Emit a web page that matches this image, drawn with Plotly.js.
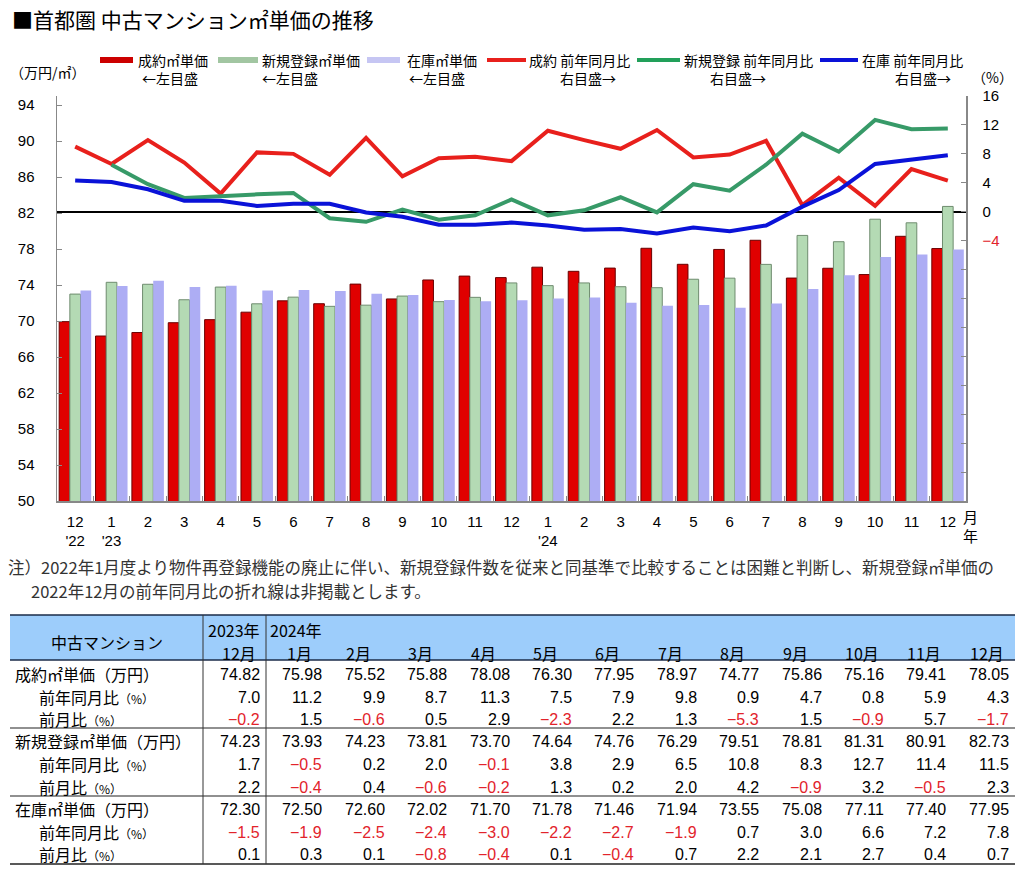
<!DOCTYPE html>
<html><head><meta charset="utf-8">
<script src="https://cdn.plot.ly/plotly-3.0.1.min.js"></script>
<style>html,body{margin:0;padding:0;background:#fff}#chart{width:1024px;height:875px}</style>
</head><body><div id="chart"></div>
<script>
// ---- data ----
const months = ['2022-12','2023-01','2023-02','2023-03','2023-04','2023-05','2023-06','2023-07','2023-08','2023-09','2023-10','2023-11','2023-12',
                '2024-01','2024-02','2024-03','2024-04','2024-05','2024-06','2024-07','2024-08','2024-09','2024-10','2024-11','2024-12'];
const monthLabels = ["12<br>'22","1<br>'23","2","3","4","5","6","7","8","9","10","11","12",
                     "1<br>'24","2","3","4","5","6","7","8","9","10","11","12"];
const seiyakuPrice = [69.93,68.33,68.72,69.81,70.15,70.98,72.24,71.92,74.10,72.45,74.56,74.99,74.82,
                      75.98,75.52,75.88,78.08,76.30,77.95,78.97,74.77,75.86,75.16,79.41,78.05];
const shinkiPrice  = [72.99,74.30,74.08,72.36,73.77,71.91,72.65,71.63,71.76,72.77,72.15,72.63,74.23,
                      73.93,74.23,73.81,73.70,74.64,74.76,76.29,79.51,78.81,81.31,80.91,82.73];
const zaikoPrice   = [73.40,73.90,74.46,73.79,73.92,73.39,73.44,73.33,73.04,72.89,72.34,72.20,72.30,
                      72.50,72.60,72.02,71.70,71.78,71.46,71.94,73.55,75.08,77.11,77.40,77.95];
const seiyakuYoY = [9.0,6.6,9.9,6.8,2.5,8.2,8.0,5.1,10.2,4.9,7.4,7.6,7.0,
                    11.2,9.9,8.7,11.3,7.5,7.9,9.8,0.9,4.7,0.8,5.9,4.3];
const shinkiYoY  = [null,6.5,3.8,1.9,2.2,2.4,2.6,-0.9,-1.4,0.3,-1.1,-0.5,1.7,
                    -0.5,0.2,2.0,-0.1,3.8,2.9,6.5,10.8,8.3,12.7,11.4,11.5];
const zaikoYoY   = [4.3,4.1,3.1,1.5,1.5,0.8,1.1,1.1,-0.1,-0.7,-1.8,-1.8,-1.5,
                    -1.9,-2.5,-2.4,-3.0,-2.2,-2.7,-1.9,0.7,3.0,6.6,7.2,7.8];
// table (Dec 2023 - Dec 2024)
const tblYears  = ['2023年','2024年','','','','','','','','','','',''];
const tblMonths = ['12月','1月','2月','3月','4月','5月','6月','7月','8月','9月','10月','11月','12月'];
const seiyakuMoM = [-0.2,1.5,-0.6,0.5,2.9,-2.3,2.2,1.3,-5.3,1.5,-0.9,5.7,-1.7];
const shinkiMoM  = [2.2,-0.4,0.4,-0.6,-0.2,1.3,0.2,2.0,4.2,-0.9,3.2,-0.5,2.3];
const zaikoMoM   = [0.1,0.3,0.1,-0.8,-0.4,0.1,-0.4,0.7,2.2,2.1,2.7,0.4,0.7];
const leftTicks = [50,54,58,62,66,70,74,78,82,86,90,94];
const rightTicks = [-40,-36,-32,-28,-24,-20,-16,-12,-8,-4,0,4,8,12,16];

// ---- helpers ----
const W = 1024, H = 875;
const px = x => x / W, py = y => 1 - y / H;
const JP = '"Noto Sans CJK JP","Noto Sans",sans-serif';
const NUM = '"Liberation Sans",Arial,sans-serif';
const RED = '#e2232b';

const traces = [
  {type:'bar', name:'成約㎡単価', x:months, y:seiyakuPrice,
   marker:{color:'#e00000', line:{color:'#6a0000', width:1}}},
  {type:'bar', name:'新規登録㎡単価', x:months, y:shinkiPrice,
   marker:{color:'#b4dab4', line:{color:'#6f8c6f', width:1}}},
  {type:'bar', name:'在庫㎡単価', x:months, y:zaikoPrice,
   marker:{color:'#adadf4', line:{width:0}}},
  {type:'scatter', mode:'lines', name:'成約 前年同月比', x:months, y:seiyakuYoY, yaxis:'y2',
   line:{color:'#e8201c', width:4}},
  {type:'scatter', mode:'lines', name:'新規登録 前年同月比', x:months, y:shinkiYoY, yaxis:'y2',
   line:{color:'#379a68', width:4}},
  {type:'scatter', mode:'lines', name:'在庫 前年同月比', x:months, y:zaikoYoY, yaxis:'y2',
   line:{color:'#0a12d8', width:4}}
];

const ann = [];
const shapes = [];
function txt(t, x, y, o) {
  o = o || {};
  ann.push({xref:'paper', yref:'paper', x:px(x), y:py(y), text:t, showarrow:false,
    xanchor:o.xa || 'left', yanchor:'middle',
    font:{family:o.family || JP, size:o.size || 14, color:o.color || '#000'}});
}
// title
txt('■首都圏 中古マンション㎡単価の推移', 10, 19, {size:21});
// unit labels
txt('（万円/㎡）', 8, 72, {size:14});
txt('（%）', 970, 77, {size:14});
// legend
txt('成約㎡単価', 136, 60); txt('←左目盛', 140, 78);
txt('新規登録㎡単価', 260, 60); txt('←左目盛', 260, 78);
txt('在庫㎡単価', 405, 60); txt('←左目盛', 407, 78);
txt('成約 前年同月比', 527, 60); txt('右目盛→', 558, 78);
txt('新規登録 前年同月比', 682, 60); txt('右目盛→', 708, 78);
txt('在庫 前年同月比', 860, 60); txt('右目盛→', 893, 78);
function rect(x0, x1, y0, y1, fill, line) {
  shapes.push({type:'rect', xref:'paper', yref:'paper', x0:px(x0), x1:px(x1), y0:py(y1), y1:py(y0),
    fillcolor:fill, line:line || {width:0}, layer:'above'});
}
function hline(x0, x1, y, color, width) {
  shapes.push({type:'line', xref:'paper', yref:'paper', x0:px(x0), x1:px(x1), y0:py(y), y1:py(y),
    line:{color:color, width:width}, layer:'above'});
}
function vline(x, y0, y1, color, width) {
  shapes.push({type:'line', xref:'paper', yref:'paper', x0:px(x), x1:px(x), y0:py(y0), y1:py(y1),
    line:{color:color, width:width}, layer:'above'});
}
rect(100, 133, 57, 63, '#cc0000');
rect(218, 258, 57, 63, '#a2c6a2');
rect(367, 400, 57, 63, '#c6c6f3');
hline(487, 526, 60, '#e8201c', 4);
hline(637, 680, 60, '#22a05a', 4);
hline(820, 858, 60, '#0a12d8', 4);
// x-axis unit
txt('月', 970, 516, {size:15, xa:'center'});
txt('年', 970, 535, {size:15, xa:'center'});
// note
txt('注）2022年1月度より物件再登録機能の廃止に伴い、新規登録件数を従来と同基準で比較することは困難と判断し、新規登録㎡単価の', 6, 567, {size:16.5, color:'#333'});
txt('2022年12月の前年同月比の折れ線は非掲載とします。', 29, 591, {size:16.5, color:'#333'});

// ---- table ----
rect(10, 1015, 615, 660, '#9dcdfb');
hline(10, 1015, 615, '#1b2b48', 1.5);
hline(10, 1015, 660, '#1b2b48', 1.5);
hline(10, 1015, 728, '#222', 1.2);
hline(10, 1015, 796, '#222', 1.2);
hline(10, 1015, 864, '#222', 1.5);
vline(203, 615, 864, '#333', 1);
vline(266, 615, 864, '#333', 1);
txt('中古マンション', 107, 642, {size:16, xa:'center'});
const rowY = [674, 697, 719, 741, 764, 787, 809, 832, 854];
const small = s => s + '<span style="font-size:12px">（%）</span>';
const rowLabels = [['成約㎡単価（万円）',13],[small('前年同月比'),37],[small('前月比'),37],
                   ['新規登録㎡単価（万円）',13],[small('前年同月比'),37],[small('前月比'),37],
                   ['在庫㎡単価（万円）',13],[small('前年同月比'),37],[small('前月比'),37]];
rowLabels.forEach((r, i) => txt(r[0], r[1], rowY[i], {size:16}));
const n0 = seiyakuPrice.length - 13;
const rows = [
  [seiyakuPrice.slice(n0), 2], [seiyakuYoY.slice(n0), 1], [seiyakuMoM, 1],
  [shinkiPrice.slice(n0), 2], [shinkiYoY.slice(n0), 1], [shinkiMoM, 1],
  [zaikoPrice.slice(n0), 2], [zaikoYoY.slice(n0), 1], [zaikoMoM, 1]
];
for (let c = 0; c < 13; c++) {
  const right = 262 + 62.4 * c;
  if (c === 0) {
    txt(tblYears[c], 234, 630, {size:16, xa:'center'});
    txt(tblMonths[c], 239, 653, {size:16, xa:'center'});
  } else if (c === 1) {
    txt(tblYears[c], 268, 630, {size:16});
    txt(tblMonths[c], 285, 653, {size:16});
  } else {
    txt(tblMonths[c], right - 43, 653, {size:16});
  }
  rows.forEach((r, i) => {
    const v = r[0][c];
    const s = v.toFixed(r[1]).replace('-', '−');
    txt(s, right, rowY[i], {size:16, family:NUM, xa:'right', color: v < 0 ? RED : '#000'});
  });
}

const rightText = rightTicks.map(v => v >= 0 ? String(v) : (v === -4 ? '<span style="color:#e2232b">−4</span>' : ''));

const layout = {
  width: W, height: H,
  margin: {l:0, r:0, t:0, b:0},
  paper_bgcolor: '#fff', plot_bgcolor: '#fff',
  showlegend: false,
  barmode: 'group', bargap: 0.12, bargroupgap: 0,
  font: {family: NUM, size: 15, color: '#000'},
  xaxis: {
    domain: [px(57), px(966)], type: 'category',
    tickvals: months, ticktext: monthLabels,
    showline: true, linecolor: '#888', linewidth: 1.5,
    ticks: 'inside', tickson: 'boundaries', ticklen: 5, tickcolor: '#888',
    showgrid: false, zeroline: false, ticklabelstandoff: 6,
    tickfont: {family: NUM, size: 15, color: '#000'}, tickangle: 0
  },
  yaxis: {
    domain: [py(501), py(96)], range: [50, 95],
    tickvals: leftTicks, showline: true, linecolor: '#888', linewidth: 1.5,
    ticks: 'inside', ticklen: 5, tickcolor: '#888', showgrid: false, zeroline: false,
    ticklabelstandoff: 18, tickfont: {family: NUM, size: 15, color: '#000'}
  },
  yaxis2: {
    overlaying: 'y', side: 'right', range: [-40, 16],
    tickvals: rightTicks, ticktext: rightText,
    showline: true, linecolor: '#888', linewidth: 1.5,
    ticks: 'inside', ticklen: 5, tickcolor: '#888', showgrid: false,
    zeroline: true, zerolinecolor: '#000', zerolinewidth: 2,
    ticklabelstandoff: 12, tickfont: {family: NUM, size: 15, color: '#000'}
  },
  annotations: ann,
  shapes: shapes
};

Plotly.newPlot('chart', traces, layout, {displayModeBar: false, staticPlot: true});
</script>
</body></html>
